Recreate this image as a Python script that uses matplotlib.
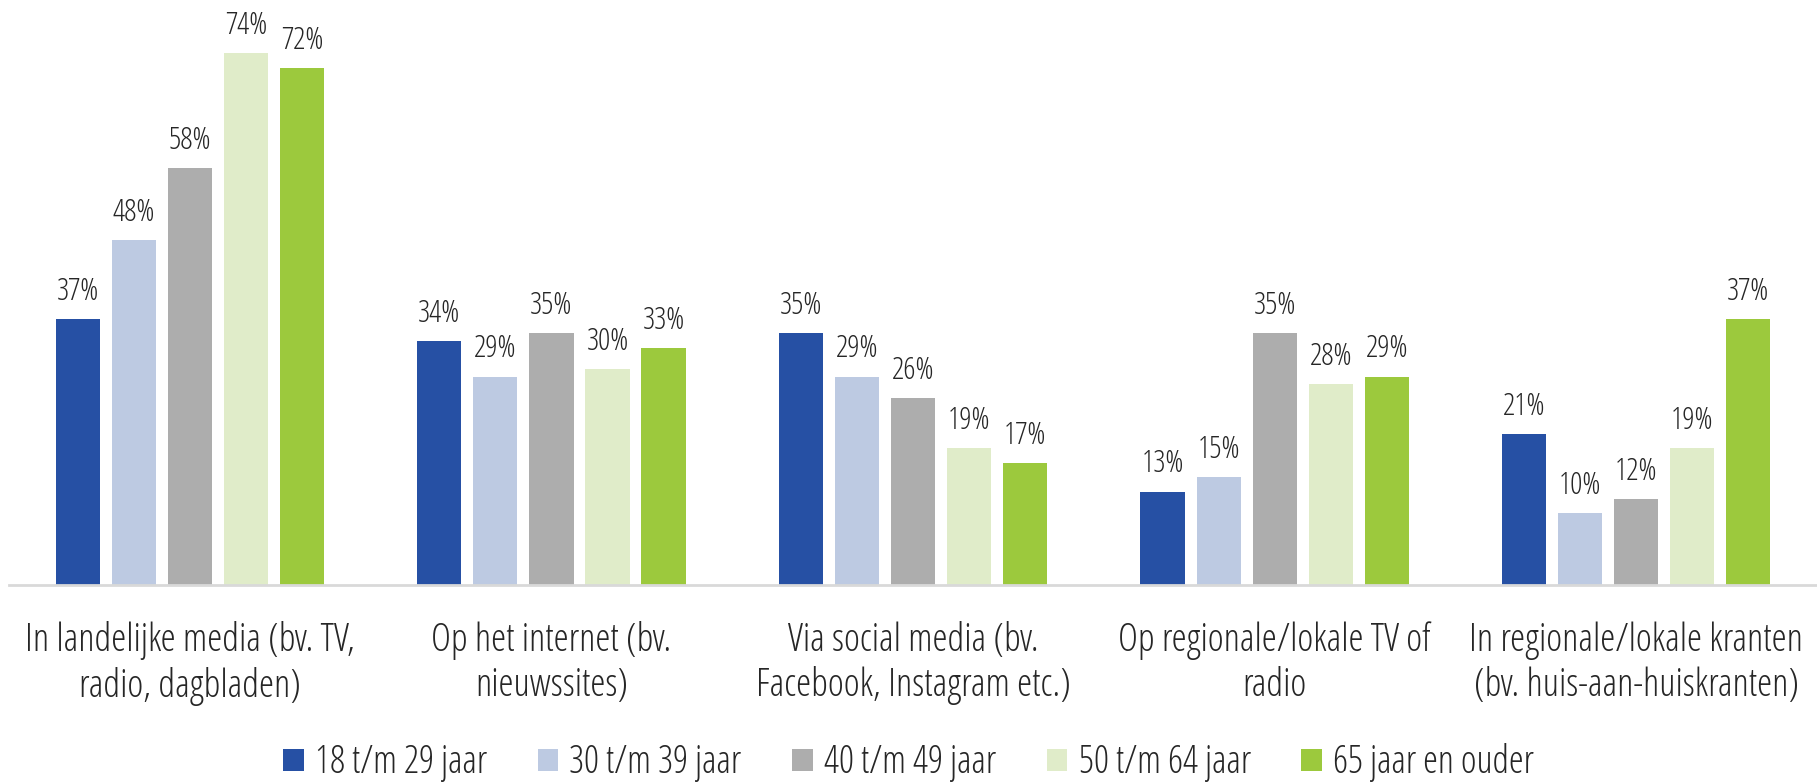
import numpy as np
import matplotlib
matplotlib.use("Agg")
import matplotlib.pyplot as plt
from matplotlib.patches import Patch

plt.rcParams['font.family'] = ['Open Sans', 'DejaVu Sans']
plt.rcParams['font.stretch'] = 'condensed'
plt.rcParams['font.weight'] = 'light'

# Data
categories = [
    "In landelijke media (bv. TV,\nradio, dagbladen)",
    "Op het internet (bv.\nnieuwssites)",
    "Via social media (bv.\nFacebook, Instagram etc.)",
    "Op regionale/lokale TV of\nradio",
    "In regionale/lokale kranten\n(bv. huis-aan-huiskranten)",
]
age_groups = ["18 t/m 29 jaar", "30 t/m 39 jaar", "40 t/m 49 jaar",
              "50 t/m 64 jaar", "65 jaar en ouder"]
age_18_29 = [37, 34, 35, 13, 21]
age_30_39 = [48, 29, 29, 15, 10]
age_40_49 = [58, 35, 26, 35, 12]
age_50_64 = [74, 30, 19, 28, 19]
age_65_plus = [72, 33, 17, 29, 37]
colors = ["#2650A4", "#BDCAE2", "#ADADAD", "#E0ECC9", "#9CC93D"]

series = [age_18_29, age_30_39, age_40_49, age_50_64, age_65_plus]

fig = plt.figure(figsize=(18.17, 7.83), dpi=100)
ax = fig.add_axes([0.005, 0.253, 0.995, 0.734])

x = np.arange(len(categories))
width = 0.122
step = 0.155
for i, (vals, col) in enumerate(zip(series, colors)):
    pos = x + (i - 2) * step
    bars = ax.bar(pos, vals, width=width, color=col, zorder=2)
    for b, v in zip(bars, vals):
        ax.annotate(f"{v}%", (b.get_x() + b.get_width() / 2, v),
                    xytext=(0, 8), textcoords="offset points",
                    ha="center", va="bottom", fontsize=22, color="#262626")

ax.set_xlim(-0.5, len(categories) - 0.5)
ax.set_ylim(0, 80)
ax.set_xticks(x)
ax.set_xticklabels(categories, fontsize=27.5, color="#262626", linespacing=1.22)
ax.tick_params(axis="x", length=0, pad=26)
ax.set_yticks([])
for s in ["top", "right", "left"]:
    ax.spines[s].set_visible(False)
ax.spines["bottom"].set_color("#D9D9D9")
ax.spines["bottom"].set_linewidth(2)

handles = [Patch(facecolor=c, label=l) for c, l in zip(colors, age_groups)]
fig.legend(handles=handles, loc="center", bbox_to_anchor=(0.5, 0.026),
           ncol=5, frameon=False, fontsize=27, handlelength=0.55,
           handleheight=0.55, handletextpad=0.3, columnspacing=1.35,
           borderpad=0.1, labelcolor="#262626")

fig.savefig("out.png", dpi=100)
